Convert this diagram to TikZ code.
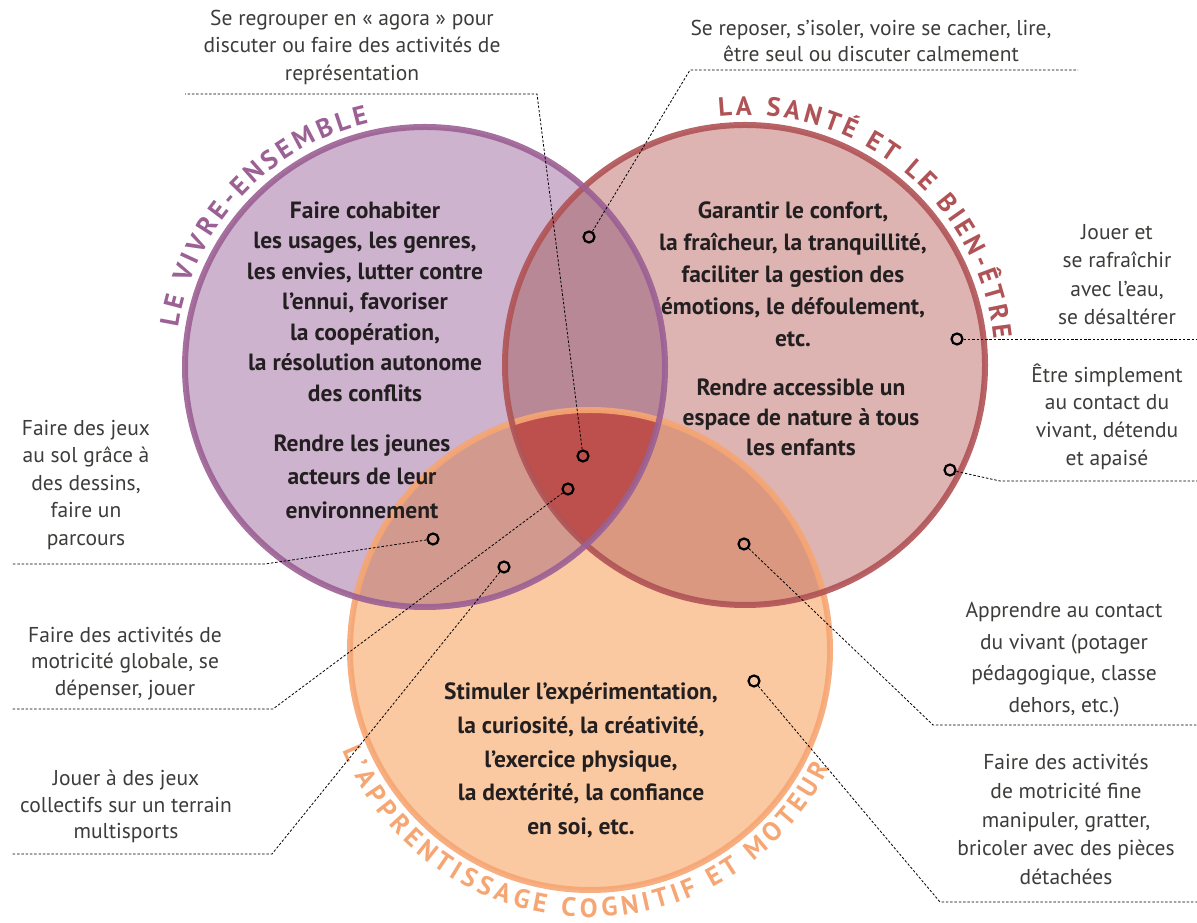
\documentclass[tikz,border=0pt]{standalone}
\usepackage{fontspec}
\setmainfont{PT Sans}
\setsansfont{PT Sans}
\usetikzlibrary{decorations.text}
\definecolor{pFill}{RGB}{205,179,206}
\definecolor{rFill}{RGB}{222,180,178}
\definecolor{oFill}{RGB}{250,201,162}
\definecolor{abFill}{RGB}{185,136,150}
\definecolor{acFill}{RGB}{210,154,142}
\definecolor{bcFill}{RGB}{218,152,128}
\definecolor{abcFill}{RGB}{189,80,76}
\definecolor{pStroke}{RGB}{155,96,148}
\definecolor{rStroke}{RGB}{176,83,86}
\definecolor{oStroke}{RGB}{246,166,115}
\definecolor{bodytext}{RGB}{35,31,32}
\definecolor{labtext}{RGB}{60,60,59}
\begin{document}
\begin{tikzpicture}[x=1pt,y=1pt,
  body/.style={font=\bfseries\fontsize{23.5}{#1}\selectfont, text=bodytext, align=center, inner sep=0pt},
  lab/.style={font=\fontsize{21.5}{#1}\selectfont, text=labtext, align=center, inner sep=0pt},
  dot/.style={circle, draw=black, line width=2.2pt, minimum size=11pt, inner sep=0pt},
  lead/.style={draw=black, line width=0.8pt, dash pattern=on 2.5pt off 1.8pt},
  ring/.style={line width=6pt, draw opacity=0.9},
]
\useasboundingbox (0,0) rectangle (1197,923);
\coordinate (cA) at (425,556);
\coordinate (cB) at (745,558);
\coordinate (cC) at (590,273);
% base fills
\fill[pFill] (cA) circle[radius=240pt];
\fill[rFill] (cB) circle[radius=240pt];
\fill[oFill] (cC) circle[radius=240pt];
\begin{scope}
  \clip (cB) circle[radius=240pt];
  \fill[bcFill] (cC) circle[radius=240pt];
\end{scope}
\begin{scope}
  \clip (cA) circle[radius=240pt];
  \fill[abFill] (cB) circle[radius=240pt];
  \fill[acFill] (cC) circle[radius=240pt];
  \clip (cB) circle[radius=240pt];
  \fill[abcFill] (cC) circle[radius=240pt];
\end{scope}
% rings
\draw[ring, oStroke] (cC) circle[radius=240pt];
\draw[ring, rStroke] (cB) circle[radius=240pt];
\draw[ring, pStroke] (cA) circle[radius=240pt];
% arc titles
\path[decorate, decoration={text along path, text align={fit to path},
  text={|\bfseries\fontsize{26.5}{26.5}\selectfont\color{pStroke}|LE VIVRE-ENSEMBLE}}]
  (cA) ++(171:250pt) arc[start angle=171, end angle=103, radius=250pt];
\path[decorate, decoration={text along path, text align={fit to path},
  text={|\bfseries\fontsize{26.5}{26.5}\selectfont\color{rStroke}|LA SANTÉ ET LE BIEN-ÊTRE}}]
  (cB) ++(96:250pt) arc[start angle=96, end angle=6, radius=250pt];
\path[decorate, decoration={text along path, text align={fit to path},
  text={|\bfseries\fontsize{26.5}{26.5}\selectfont\color{oStroke}|L’APPRENTISSAGE COGNITIF ET MOTEUR}}]
  (cC) ++(202:267pt) arc[start angle=202, end angle=334, radius=267pt];
% body texts
\node[body=30.5] (tA1) at (365,621.5) {Faire cohabiter\\les usages, les genres,\\les envies, lutter contre\\l’ennui, favoriser\\la coopération,\\la résolution autonome\\des conflits};
\node[body=33.5] (tA2) at (362,446.3) {Rendre les jeunes\\acteurs de leur\\environnement};
\node[body=32] (tB1) at (793,649) {Garantir le confort,\\la fraîcheur, la tranquillité,\\faciliter la gestion des\\émotions, le défoulement,\\etc.};
\node[body=30] (tB2) at (801,506) {Rendre accessible un\\espace de nature à tous\\les enfants};
\node[body=33.75] (tC1) at (581,162.5) {Stimuler l’expérimentation,\\la curiosité, la créativité,\\l’exercice physique,\\la dextérité, la confiance\\en soi, etc.};
% labels
\node[lab=26] (l1) at (871,882) {Se reposer, s’isoler, voire se cacher, lire,\\être seul ou discuter calmement};
\node[lab=27.5] (l2) at (352,875.5) {Se regrouper en «~agora~» pour\\discuter ou faire des activités de\\représentation};
\node[lab=28.3] (l3) at (1117,648.5) {Jouer et\\se rafraîchir\\avec l’eau,\\se désaltérer};
\node[lab=27.7] (l4) at (1107,506.5) {Être simplement\\au contact du\\vivant, détendu\\et apaisé};
\node[lab=31.5] (l5) at (1064,263.5) {Apprendre au contact\\du vivant (potager\\pédagogique, classe\\dehors, etc.)};
\node[lab=28.75] (l6) at (1066,103.5) {Faire des activités\\de motricité fine\\manipuler, gratter,\\bricoler avec des pièces\\détachées};
\node[lab=27.5] (l7) at (86,438) {Faire des jeux\\au sol grâce à\\des dessins,\\faire un\\parcours};
\node[lab=26.5] (l8) at (125,259.5) {Faire des activités de\\motricité globale, se\\dépenser, jouer};
\node[lab=26.5] (l9) at (126,116.5) {Jouer à des jeux\\collectifs sur un terrain\\multisports};
% dots
\node[dot] (d1) at (589,686) {};
\node[dot] (d2) at (583,467) {};
\node[dot] (d3) at (957,584) {};
\node[dot] (d4) at (950,453) {};
\node[dot] (d5) at (744,379) {};
\node[dot] (d6) at (754,242) {};
\node[dot] (d7) at (433,384) {};
\node[dot] (d8) at (568,434) {};
\node[dot] (d9) at (504,356) {};
% corner and end coordinates
\coordinate (k1) at (690,853); \coordinate (e1) at (1078,853);
\coordinate (k2) at (537,829); \coordinate (e2) at (185,829);
\coordinate (e3) at (1197,584);
\coordinate (k4) at (1000,442); \coordinate (e4) at (1197,442);
\coordinate (k5) at (933,198); \coordinate (e5) at (1197,198);
\coordinate (k6) at (940,21); \coordinate (e6) at (1197,21);
\coordinate (k7) at (265,359); \coordinate (e7) at (12,359);
\coordinate (k8) at (273,214); \coordinate (e8) at (12,214);
\coordinate (k9) at (272,69); \coordinate (e9) at (12,69);
% leaders
\draw[lead] (d1) -- (k1) -- (e1);
\draw[lead] (d2) -- (k2) -- (e2);
\draw[lead] (d3) -- (e3);
\draw[lead] (d4) -- (k4) -- (e4);
\draw[lead] (d5) -- (k5) -- (e5);
\draw[lead] (d6) -- (k6) -- (e6);
\draw[lead] (d7) -- (k7) -- (e7);
\draw[lead] (d8) -- (k8) -- (e8);
\draw[lead] (d9) -- (k9) -- (e9);
\end{tikzpicture}
\end{document}
